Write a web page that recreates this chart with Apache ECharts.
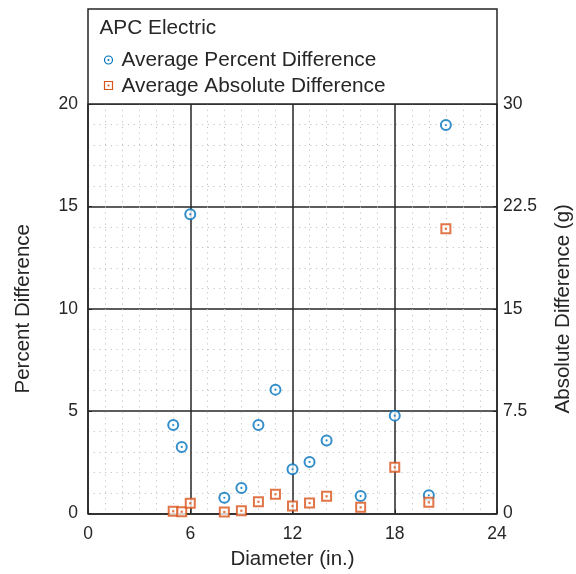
<!DOCTYPE html>
<html>
<head>
<meta charset="utf-8">
<script src="https://cdn.jsdelivr.net/npm/echarts@6/dist/echarts.min.js"></script>
<style>
html,body{margin:0;padding:0;background:#fff;}
#c{width:576px;height:574px;}
</style>
</head>
<body>
<div id="c"></div>
<script>
// Data
const diameters = [5, 5.5, 6, 8, 9, 10, 11, 12, 13, 14, 16, 18, 20, 21];
const percentDiff = [4.32, 3.25, 14.61, 0.77, 1.25, 4.32, 6.05, 2.16, 2.52, 3.57, 0.85, 4.78, 0.89, 18.97];
const absoluteDiff = [0.16, 0.13, 0.75, 0.11, 0.20, 0.86, 1.41, 0.55, 0.77, 1.26, 0.45, 3.38, 0.82, 20.86];
const xTicks = [0, 6, 12, 18, 24];
const leftTicks = [0, 5, 10, 15, 20];
const rightTicks = [0, 7.5, 15, 22.5, 30];
const legendTitle = 'APC Electric';
const seriesNames = ['Average Percent Difference', 'Average Absolute Difference'];

const BLUE = '#0072BD', ORANGE = '#D95319', INK = '#262626';
const FONT = '"Liberation Sans", Arial, Helvetica, sans-serif';

const chart = echarts.init(document.getElementById('c'), null, {renderer: 'canvas'});

const G = {left: 88, right: 79, top: 104, bottom: 60.5};
const plotLeft = G.left, plotRight = 576 - G.right;

function pairs(ys) { return diameters.map((x, i) => [x, ys[i]]); }

const minorLine = {show: true, lineStyle: {color: '#c4c4c4', width: 1, type: [1.2, 4.5]}};

const option = {
  animation: false,
  backgroundColor: '#fff',
  grid: {left: G.left, right: G.right, top: G.top, bottom: G.bottom, containLabel: false, outerBoundsMode: 'none'},
  xAxis: {
    type: 'value', min: xTicks[0], max: xTicks[xTicks.length - 1], interval: 6,
    name: 'Diameter (in.)', nameLocation: 'middle', nameGap: 35,
    nameTextStyle: {fontFamily: FONT, fontSize: 20.5, color: INK},
    axisLine: {show: true, lineStyle: {color: INK, width: 1.5}},
    axisTick: {show: true, inside: true, length: 4, lineStyle: {color: INK}},
    axisLabel: {fontFamily: FONT, fontSize: 17.5, color: INK, margin: 12},
    splitLine: {show: true, lineStyle: {color: INK, width: 1.5}},
    minorTick: {show: false, splitNumber: 6},
    minorSplitLine: minorLine
  },
  yAxis: [{
    type: 'value', min: leftTicks[0], max: leftTicks[leftTicks.length - 1], interval: 5,
    name: 'Percent Difference', nameLocation: 'middle', nameGap: 54, nameRotate: 90,
    nameTextStyle: {fontFamily: FONT, fontSize: 20.5, color: INK},
    axisLine: {show: true, lineStyle: {color: INK, width: 1.5}},
    axisTick: {show: true, inside: true, length: 4, lineStyle: {color: INK}},
    axisLabel: {fontFamily: FONT, fontSize: 17.5, color: INK, margin: 10},
    splitLine: {show: true, lineStyle: {color: INK, width: 1.5}},
    minorTick: {show: false, splitNumber: 5},
    minorSplitLine: minorLine
  }, {
    type: 'value', position: 'right', min: rightTicks[0], max: rightTicks[rightTicks.length - 1], interval: 7.5,
    name: 'Absolute Difference (g)', nameLocation: 'middle', nameGap: 56, nameRotate: 90,
    nameTextStyle: {fontFamily: FONT, fontSize: 20.5, color: INK},
    axisLine: {show: true, lineStyle: {color: INK, width: 1.5}},
    axisTick: {show: true, inside: true, length: 4, lineStyle: {color: INK}},
    axisLabel: {fontFamily: FONT, fontSize: 17.5, color: INK, margin: 6},
    splitLine: {show: false}
  }],
  series: [
    {name: seriesNames[0], type: 'scatter', yAxisIndex: 0, data: pairs(percentDiff), clip: false,
     symbol: 'emptyCircle', symbolSize: 10, itemStyle: {color: BLUE, borderWidth: 1.3}, z: 3},
    {name: seriesNames[0] + ' dot', type: 'scatter', yAxisIndex: 0, data: pairs(percentDiff), clip: false,
     symbol: 'circle', symbolSize: 2.2, itemStyle: {color: BLUE}, z: 4},
    {name: seriesNames[1], type: 'scatter', yAxisIndex: 1, data: pairs(absoluteDiff), clip: false,
     symbol: 'emptyRect', symbolSize: 9, itemStyle: {color: ORANGE, borderWidth: 1.3}, z: 5},
    {name: seriesNames[1] + ' dot', type: 'scatter', yAxisIndex: 1, data: pairs(absoluteDiff), clip: false,
     symbol: 'rect', symbolSize: 2.2, itemStyle: {color: ORANGE}, z: 6}
  ],
  graphic: [
    {type: 'rect', shape: {x: plotLeft, y: 9, width: plotRight - plotLeft, height: G.top - 9},
     style: {fill: '#fff', stroke: INK, lineWidth: 1.5}, z: 100},
    {type: 'text', x: 99.5, y: 28, style: {text: legendTitle, font: '20.8px ' + FONT, fill: INK, verticalAlign: 'middle'}, z: 101},
    {type: 'circle', shape: {cx: 108.5, cy: 60, r: 4}, style: {fill: '#fff', stroke: BLUE, lineWidth: 1.2}, z: 101},
    {type: 'circle', shape: {cx: 108.5, cy: 60, r: 1}, style: {fill: BLUE}, z: 102},
    {type: 'text', x: 121.5, y: 60, style: {text: seriesNames[0], font: '20.8px ' + FONT, fill: INK, verticalAlign: 'middle'}, z: 101},
    {type: 'rect', shape: {x: 104.5, y: 81.5, width: 8, height: 8}, style: {fill: '#fff', stroke: ORANGE, lineWidth: 1.2}, z: 101},
    {type: 'rect', shape: {x: 107.6, y: 84.6, width: 1.8, height: 1.8}, style: {fill: ORANGE}, z: 102},
    {type: 'text', x: 121.5, y: 86, style: {text: seriesNames[1], font: '20.8px ' + FONT, fill: INK, verticalAlign: 'middle'}, z: 101}
  ]
};
chart.setOption(option);
</script>
</body>
</html>
